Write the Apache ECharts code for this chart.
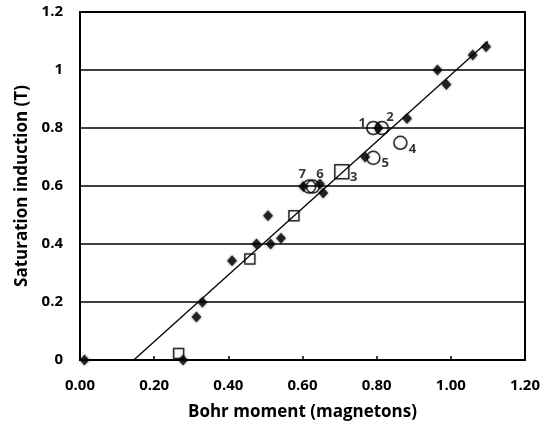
<!DOCTYPE html>
<html><head><meta charset="utf-8">
<script src="https://cdn.jsdelivr.net/npm/echarts@6/dist/echarts.min.js"></script>
<style>html,body{margin:0;padding:0;background:#fff}#c{width:548px;height:426px}</style>
</head><body><div id="c"></div>
<script>
var xTicks = [0, 0.2, 0.4, 0.6, 0.8, 1.0, 1.2];
var yTicks = [0, 0.2, 0.4, 0.6, 0.8, 1.0, 1.2];
var diamonds = [[0.012,0],[0.278,0],[0.314,0.148],[0.330,0.199],[0.41,0.342],[0.476,0.40],[0.507,0.497],[0.514,0.40],[0.542,0.42],[0.602,0.598],[0.647,0.607],[0.656,0.576],[0.769,0.70],[0.805,0.80],[0.882,0.833],[0.964,1.0],[0.988,0.95],[1.059,1.052],[1.095,1.08]];
var squares = [[0.266,0.022],[0.458,0.348],[0.577,0.497]];
var bigSquare = [[0.706,0.649]];
var bigSquareLabel = ['3'];
var circles = [[0.791,0.80],[0.814,0.80],[0.864,0.749],[0.791,0.697],[0.628,0.598],[0.618,0.598]];
var circleLabels = ['1','2','4','5','6','7'];
var fitLine = [[0.145,0],[1.10,1.098]];

var labelOffsets = {'1':[-11,-5],'2':[8,-11],'3':[12,6],'4':[12,7],'5':[12,5],'6':[7,-12],'7':[-7,-12]};
var font = '"Open Sans", Lato, sans-serif';
var chart = echarts.init(document.getElementById('c'));
var lbl = function(name){
  var o = labelOffsets[name] || [12,6];
  return {show:true, position:'inside', offset:o, formatter:name, color:'#000', fontWeight:'bold', fontSize:13, fontFamily:font};
};
chart.setOption({
  animation:false,
  grid:{left:80,right:23,top:12,bottom:66,show:true,borderColor:'#000',borderWidth:2,backgroundColor:'transparent'},
  xAxis:{type:'value',min:xTicks[0],max:xTicks[xTicks.length-1],interval:0.2,
    name:'Bohr moment (magnetons)',nameLocation:'middle',nameGap:44,
    nameTextStyle:{fontSize:17,fontWeight:'bold',color:'#000',fontFamily:font},
    axisLine:{lineStyle:{color:'#000',width:2}},
    axisTick:{inside:true,length:4,lineStyle:{color:'#000',width:1.5}},
    axisLabel:{formatter:function(v){return v.toFixed(2);},fontSize:15,fontWeight:'bold',color:'#000',margin:18,fontFamily:font},
    splitLine:{show:false}},
  yAxis:{type:'value',min:yTicks[0],max:yTicks[yTicks.length-1],interval:0.2,
    name:'Saturation induction (T)',nameLocation:'middle',nameGap:44,
    nameTextStyle:{fontSize:17,fontWeight:'bold',color:'#000',fontFamily:font},
    axisLine:{show:true,lineStyle:{color:'#000',width:2}},
    axisTick:{show:false},
    axisLabel:{formatter:function(v){return String(Math.round(v*10)/10);},fontSize:15,fontWeight:'bold',color:'#000',margin:17,fontFamily:font},
    splitLine:{show:true,lineStyle:{color:'#000',width:1.5}}},
  series:[
    {type:'line',data:fitLine,symbol:'none',lineStyle:{color:'#000',width:1.3},z:2},
    {type:'scatter',data:diamonds,symbol:'diamond',symbolSize:[10,11],
      itemStyle:{color:'#000',shadowBlur:3,shadowColor:'rgba(0,0,0,0.5)'},z:3},
    {type:'scatter',data:squares,symbol:'rect',symbolSize:10,
      itemStyle:{color:'transparent',borderColor:'#000',borderWidth:1.5,shadowBlur:2,shadowColor:'rgba(0,0,0,0.3)'},z:4},
    {type:'scatter',data:bigSquare.map(function(p,i){return {value:p,label:lbl(bigSquareLabel[i])};}),symbol:'rect',symbolSize:14,
      itemStyle:{color:'transparent',borderColor:'#000',borderWidth:1.5,shadowBlur:2,shadowColor:'rgba(0,0,0,0.3)'},z:4},
    {type:'scatter',data:circles.map(function(p,i){return {value:p,label:lbl(circleLabels[i])};}),symbol:'circle',symbolSize:[13,13],
      itemStyle:{color:'transparent',borderColor:'#000',borderWidth:1.5,shadowBlur:2,shadowColor:'rgba(0,0,0,0.3)'},z:4}
  ]
});
</script></body></html>
